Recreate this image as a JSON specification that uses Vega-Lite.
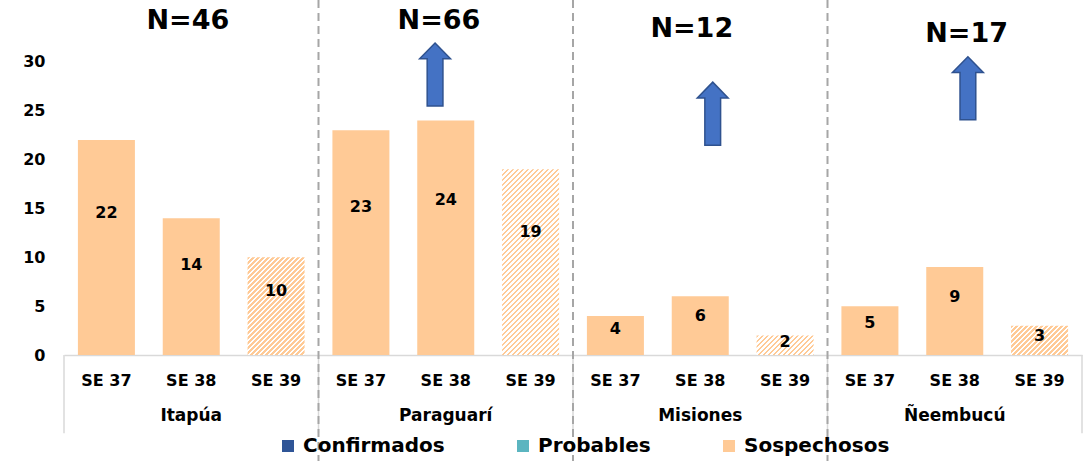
{
"$schema":"https://vega.github.io/schema/vega-lite/v6.json",
"width":1018,"height":355,
"autosize":{"type":"none"},
"padding":{"left":64,"top":0,"right":9,"bottom":106},
"config":{"view":{"stroke":null},"font":"DejaVu Sans"},
"datasets":{
"casos":[
{"dept":"Itapúa","week":"SE 37","cat":"Itapúa SE 37","tipo":"Sospechosos","value":22},
{"dept":"Itapúa","week":"SE 38","cat":"Itapúa SE 38","tipo":"Sospechosos","value":14},
{"dept":"Itapúa","week":"SE 39","cat":"Itapúa SE 39","tipo":"Sospechosos","value":10},
{"dept":"Paraguarí","week":"SE 37","cat":"Paraguarí SE 37","tipo":"Sospechosos","value":23},
{"dept":"Paraguarí","week":"SE 38","cat":"Paraguarí SE 38","tipo":"Sospechosos","value":24},
{"dept":"Paraguarí","week":"SE 39","cat":"Paraguarí SE 39","tipo":"Sospechosos","value":19},
{"dept":"Misiones","week":"SE 37","cat":"Misiones SE 37","tipo":"Sospechosos","value":4},
{"dept":"Misiones","week":"SE 38","cat":"Misiones SE 38","tipo":"Sospechosos","value":6},
{"dept":"Misiones","week":"SE 39","cat":"Misiones SE 39","tipo":"Sospechosos","value":2},
{"dept":"Ñeembucú","week":"SE 37","cat":"Ñeembucú SE 37","tipo":"Sospechosos","value":5},
{"dept":"Ñeembucú","week":"SE 38","cat":"Ñeembucú SE 38","tipo":"Sospechosos","value":9},
{"dept":"Ñeembucú","week":"SE 39","cat":"Ñeembucú SE 39","tipo":"Sospechosos","value":3}
],
"totales":[
{"dept":"Itapúa","cat":"Itapúa SE 38","label":"N=46"},
{"dept":"Paraguarí","cat":"Paraguarí SE 38","label":"N=66"},
{"dept":"Misiones","cat":"Misiones SE 38","label":"N=12"},
{"dept":"Ñeembucú","cat":"Ñeembucú SE 38","label":"N=17"}
]
},
"layer":[
{"data":{"name":"casos"},"transform":[{"filter":"datum.week !== 'SE 39'"}],
 "mark":{"type":"bar","width":{"band":0.672}},
 "encoding":{
  "x":{"field":"cat","type":"nominal","sort":null,"scale":{"domain":["Itapúa SE 37","Itapúa SE 38","Itapúa SE 39","Paraguarí SE 37","Paraguarí SE 38","Paraguarí SE 39","Misiones SE 37","Misiones SE 38","Misiones SE 39","Ñeembucú SE 37","Ñeembucú SE 38","Ñeembucú SE 39"],"paddingInner":0,"paddingOuter":0},
   "axis":{"title":null,"labelExpr":"slice(datum.value, -5)","labelAngle":0,"labelFont":"DejaVu Sans","labelFontSize":16,"labelFontWeight":"bold","labelColor":"#000000","labelPadding":17,"ticks":false,"domainColor":"#d9d9d9","domainWidth":1.5,"grid":false}},
  "y":{"field":"value","type":"quantitative","scale":{"domain":[0,36.33],"nice":false,"zero":true},
   "axis":{"title":null,"values":[0,5,10,15,20,25,30],"grid":false,"domain":false,"ticks":false,"labelPadding":19,"labelFontSize":16,"labelFontWeight":"bold","labelColor":"#000000","labelFont":"DejaVu Sans"}},
  "color":{"field":"tipo","type":"nominal","scale":{"domain":["Confirmados","Probables","Sospechosos"],"range":["#2F5597","#5BB5C0","#FFCA96"]},
   "legend":{"title":null,"orient":"none","legendX":214,"legendY":436,"direction":"horizontal","symbolType":"square","symbolSize":144,"symbolStrokeWidth":0,"labelFontSize":20,"labelFontWeight":"bold","labelFont":"DejaVu Sans","labelColor":"#000000","labelOffset":5,"columnPadding":68,"padding":0,"labelLimit":300}}
 }},
{"data":{"name":"casos"},"transform":[{"filter":"datum.cat === 'Itapúa SE 39'"}],
 "mark":{"type":"bar","width":{"band":0.672},"fill":{"gradient":"linear","x1":0,"y1":0,"x2":1.114,"y2":1.909,"stops":[
{"offset":0,"color":"#ffca96"},
{"offset":0.01,"color":"#ffca96"},{"offset":0.01,"color":"#fff"},{"offset":0.02,"color":"#fff"},{"offset":0.02,"color":"#ffca96"},{"offset":0.03,"color":"#ffca96"},{"offset":0.03,"color":"#fff"},{"offset":0.04,"color":"#fff"},{"offset":0.04,"color":"#ffca96"},{"offset":0.05,"color":"#ffca96"},{"offset":0.05,"color":"#fff"},{"offset":0.06,"color":"#fff"},{"offset":0.06,"color":"#ffca96"},{"offset":0.07,"color":"#ffca96"},{"offset":0.07,"color":"#fff"},{"offset":0.08,"color":"#fff"},{"offset":0.08,"color":"#ffca96"},{"offset":0.09,"color":"#ffca96"},{"offset":0.09,"color":"#fff"},{"offset":0.1,"color":"#fff"},{"offset":0.1,"color":"#ffca96"},
{"offset":0.11,"color":"#ffca96"},{"offset":0.11,"color":"#fff"},{"offset":0.12,"color":"#fff"},{"offset":0.12,"color":"#ffca96"},{"offset":0.13,"color":"#ffca96"},{"offset":0.13,"color":"#fff"},{"offset":0.14,"color":"#fff"},{"offset":0.14,"color":"#ffca96"},{"offset":0.15,"color":"#ffca96"},{"offset":0.15,"color":"#fff"},{"offset":0.16,"color":"#fff"},{"offset":0.16,"color":"#ffca96"},{"offset":0.17,"color":"#ffca96"},{"offset":0.17,"color":"#fff"},{"offset":0.18,"color":"#fff"},{"offset":0.18,"color":"#ffca96"},{"offset":0.19,"color":"#ffca96"},{"offset":0.19,"color":"#fff"},{"offset":0.2,"color":"#fff"},{"offset":0.2,"color":"#ffca96"},
{"offset":0.21,"color":"#ffca96"},{"offset":0.21,"color":"#fff"},{"offset":0.22,"color":"#fff"},{"offset":0.22,"color":"#ffca96"},{"offset":0.23,"color":"#ffca96"},{"offset":0.23,"color":"#fff"},{"offset":0.24,"color":"#fff"},{"offset":0.24,"color":"#ffca96"},{"offset":0.25,"color":"#ffca96"},{"offset":0.25,"color":"#fff"},{"offset":0.26,"color":"#fff"},{"offset":0.26,"color":"#ffca96"},{"offset":0.27,"color":"#ffca96"},{"offset":0.27,"color":"#fff"},{"offset":0.28,"color":"#fff"},{"offset":0.28,"color":"#ffca96"},{"offset":0.29,"color":"#ffca96"},{"offset":0.29,"color":"#fff"},{"offset":0.3,"color":"#fff"},{"offset":0.3,"color":"#ffca96"},
{"offset":0.31,"color":"#ffca96"},{"offset":0.31,"color":"#fff"},{"offset":0.32,"color":"#fff"},{"offset":0.32,"color":"#ffca96"},{"offset":0.33,"color":"#ffca96"},{"offset":0.33,"color":"#fff"},{"offset":0.34,"color":"#fff"},{"offset":0.34,"color":"#ffca96"},{"offset":0.35,"color":"#ffca96"},{"offset":0.35,"color":"#fff"},{"offset":0.36,"color":"#fff"},{"offset":0.36,"color":"#ffca96"},{"offset":0.37,"color":"#ffca96"},{"offset":0.37,"color":"#fff"},{"offset":0.38,"color":"#fff"},{"offset":0.38,"color":"#ffca96"},{"offset":0.39,"color":"#ffca96"},{"offset":0.39,"color":"#fff"},{"offset":0.4,"color":"#fff"},{"offset":0.4,"color":"#ffca96"},
{"offset":0.41,"color":"#ffca96"},{"offset":0.41,"color":"#fff"},{"offset":0.42,"color":"#fff"},{"offset":0.42,"color":"#ffca96"},{"offset":0.43,"color":"#ffca96"},{"offset":0.43,"color":"#fff"},{"offset":0.44,"color":"#fff"},{"offset":0.44,"color":"#ffca96"},{"offset":0.45,"color":"#ffca96"},{"offset":0.45,"color":"#fff"},{"offset":0.46,"color":"#fff"},{"offset":0.46,"color":"#ffca96"},{"offset":0.47,"color":"#ffca96"},{"offset":0.47,"color":"#fff"},{"offset":0.48,"color":"#fff"},{"offset":0.48,"color":"#ffca96"},{"offset":0.49,"color":"#ffca96"},{"offset":0.49,"color":"#fff"},{"offset":0.5,"color":"#fff"},{"offset":0.5,"color":"#ffca96"},
{"offset":0.51,"color":"#ffca96"},{"offset":0.51,"color":"#fff"},{"offset":0.52,"color":"#fff"},{"offset":0.52,"color":"#ffca96"},{"offset":0.53,"color":"#ffca96"},{"offset":0.53,"color":"#fff"},{"offset":0.54,"color":"#fff"},{"offset":0.54,"color":"#ffca96"},{"offset":0.55,"color":"#ffca96"},{"offset":0.55,"color":"#fff"},{"offset":0.56,"color":"#fff"},{"offset":0.56,"color":"#ffca96"},{"offset":0.57,"color":"#ffca96"},{"offset":0.57,"color":"#fff"},{"offset":0.58,"color":"#fff"},{"offset":0.58,"color":"#ffca96"},{"offset":0.59,"color":"#ffca96"},{"offset":0.59,"color":"#fff"},{"offset":0.6,"color":"#fff"},{"offset":0.6,"color":"#ffca96"},
{"offset":0.61,"color":"#ffca96"},{"offset":0.61,"color":"#fff"},{"offset":0.62,"color":"#fff"},{"offset":0.62,"color":"#ffca96"},{"offset":0.63,"color":"#ffca96"},{"offset":0.63,"color":"#fff"}
]}},
 "encoding":{"x":{"field":"cat","type":"nominal"},"y":{"field":"value","type":"quantitative"}}},
{"data":{"name":"casos"},"transform":[{"filter":"datum.cat === 'Paraguarí SE 39'"}],
 "mark":{"type":"bar","width":{"band":0.672},"fill":{"gradient":"linear","x1":0,"y1":0,"x2":0.378,"y2":1.23,"stops":[
{"offset":0,"color":"#ffca96"},
{"offset":0.01,"color":"#ffca96"},{"offset":0.01,"color":"#fff"},{"offset":0.02,"color":"#fff"},{"offset":0.02,"color":"#ffca96"},{"offset":0.03,"color":"#ffca96"},{"offset":0.03,"color":"#fff"},{"offset":0.04,"color":"#fff"},{"offset":0.04,"color":"#ffca96"},{"offset":0.05,"color":"#ffca96"},{"offset":0.05,"color":"#fff"},{"offset":0.06,"color":"#fff"},{"offset":0.06,"color":"#ffca96"},{"offset":0.07,"color":"#ffca96"},{"offset":0.07,"color":"#fff"},{"offset":0.08,"color":"#fff"},{"offset":0.08,"color":"#ffca96"},{"offset":0.09,"color":"#ffca96"},{"offset":0.09,"color":"#fff"},{"offset":0.1,"color":"#fff"},{"offset":0.1,"color":"#ffca96"},
{"offset":0.11,"color":"#ffca96"},{"offset":0.11,"color":"#fff"},{"offset":0.12,"color":"#fff"},{"offset":0.12,"color":"#ffca96"},{"offset":0.13,"color":"#ffca96"},{"offset":0.13,"color":"#fff"},{"offset":0.14,"color":"#fff"},{"offset":0.14,"color":"#ffca96"},{"offset":0.15,"color":"#ffca96"},{"offset":0.15,"color":"#fff"},{"offset":0.16,"color":"#fff"},{"offset":0.16,"color":"#ffca96"},{"offset":0.17,"color":"#ffca96"},{"offset":0.17,"color":"#fff"},{"offset":0.18,"color":"#fff"},{"offset":0.18,"color":"#ffca96"},{"offset":0.19,"color":"#ffca96"},{"offset":0.19,"color":"#fff"},{"offset":0.2,"color":"#fff"},{"offset":0.2,"color":"#ffca96"},
{"offset":0.21,"color":"#ffca96"},{"offset":0.21,"color":"#fff"},{"offset":0.22,"color":"#fff"},{"offset":0.22,"color":"#ffca96"},{"offset":0.23,"color":"#ffca96"},{"offset":0.23,"color":"#fff"},{"offset":0.24,"color":"#fff"},{"offset":0.24,"color":"#ffca96"},{"offset":0.25,"color":"#ffca96"},{"offset":0.25,"color":"#fff"},{"offset":0.26,"color":"#fff"},{"offset":0.26,"color":"#ffca96"},{"offset":0.27,"color":"#ffca96"},{"offset":0.27,"color":"#fff"},{"offset":0.28,"color":"#fff"},{"offset":0.28,"color":"#ffca96"},{"offset":0.29,"color":"#ffca96"},{"offset":0.29,"color":"#fff"},{"offset":0.3,"color":"#fff"},{"offset":0.3,"color":"#ffca96"},
{"offset":0.31,"color":"#ffca96"},{"offset":0.31,"color":"#fff"},{"offset":0.32,"color":"#fff"},{"offset":0.32,"color":"#ffca96"},{"offset":0.33,"color":"#ffca96"},{"offset":0.33,"color":"#fff"},{"offset":0.34,"color":"#fff"},{"offset":0.34,"color":"#ffca96"},{"offset":0.35,"color":"#ffca96"},{"offset":0.35,"color":"#fff"},{"offset":0.36,"color":"#fff"},{"offset":0.36,"color":"#ffca96"},{"offset":0.37,"color":"#ffca96"},{"offset":0.37,"color":"#fff"},{"offset":0.38,"color":"#fff"},{"offset":0.38,"color":"#ffca96"},{"offset":0.39,"color":"#ffca96"},{"offset":0.39,"color":"#fff"},{"offset":0.4,"color":"#fff"},{"offset":0.4,"color":"#ffca96"},
{"offset":0.41,"color":"#ffca96"},{"offset":0.41,"color":"#fff"},{"offset":0.42,"color":"#fff"},{"offset":0.42,"color":"#ffca96"},{"offset":0.43,"color":"#ffca96"},{"offset":0.43,"color":"#fff"},{"offset":0.44,"color":"#fff"},{"offset":0.44,"color":"#ffca96"},{"offset":0.45,"color":"#ffca96"},{"offset":0.45,"color":"#fff"},{"offset":0.46,"color":"#fff"},{"offset":0.46,"color":"#ffca96"},{"offset":0.47,"color":"#ffca96"},{"offset":0.47,"color":"#fff"},{"offset":0.48,"color":"#fff"},{"offset":0.48,"color":"#ffca96"},{"offset":0.49,"color":"#ffca96"},{"offset":0.49,"color":"#fff"},{"offset":0.5,"color":"#fff"},{"offset":0.5,"color":"#ffca96"},
{"offset":0.51,"color":"#ffca96"},{"offset":0.51,"color":"#fff"},{"offset":0.52,"color":"#fff"},{"offset":0.52,"color":"#ffca96"},{"offset":0.53,"color":"#ffca96"},{"offset":0.53,"color":"#fff"},{"offset":0.54,"color":"#fff"},{"offset":0.54,"color":"#ffca96"},{"offset":0.55,"color":"#ffca96"},{"offset":0.55,"color":"#fff"},{"offset":0.56,"color":"#fff"},{"offset":0.56,"color":"#ffca96"},{"offset":0.57,"color":"#ffca96"},{"offset":0.57,"color":"#fff"},{"offset":0.58,"color":"#fff"},{"offset":0.58,"color":"#ffca96"},{"offset":0.59,"color":"#ffca96"},{"offset":0.59,"color":"#fff"},{"offset":0.6,"color":"#fff"},{"offset":0.6,"color":"#ffca96"},
{"offset":0.61,"color":"#ffca96"},{"offset":0.61,"color":"#fff"},{"offset":0.62,"color":"#fff"},{"offset":0.62,"color":"#ffca96"},{"offset":0.63,"color":"#ffca96"},{"offset":0.63,"color":"#fff"},{"offset":0.64,"color":"#fff"},{"offset":0.64,"color":"#ffca96"},{"offset":0.65,"color":"#ffca96"},{"offset":0.65,"color":"#fff"},{"offset":0.66,"color":"#fff"},{"offset":0.66,"color":"#ffca96"},{"offset":0.67,"color":"#ffca96"},{"offset":0.67,"color":"#fff"},{"offset":0.68,"color":"#fff"},{"offset":0.68,"color":"#ffca96"},{"offset":0.69,"color":"#ffca96"},{"offset":0.69,"color":"#fff"},{"offset":0.7,"color":"#fff"},{"offset":0.7,"color":"#ffca96"},
{"offset":0.71,"color":"#ffca96"},{"offset":0.71,"color":"#fff"},{"offset":0.72,"color":"#fff"},{"offset":0.72,"color":"#ffca96"},{"offset":0.73,"color":"#ffca96"},{"offset":0.73,"color":"#fff"},{"offset":0.74,"color":"#fff"},{"offset":0.74,"color":"#ffca96"},{"offset":0.75,"color":"#ffca96"},{"offset":0.75,"color":"#fff"},{"offset":0.76,"color":"#fff"},{"offset":0.76,"color":"#ffca96"},{"offset":0.77,"color":"#ffca96"},{"offset":0.77,"color":"#fff"},{"offset":0.78,"color":"#fff"},{"offset":0.78,"color":"#ffca96"},{"offset":0.79,"color":"#ffca96"},{"offset":0.79,"color":"#fff"},{"offset":0.8,"color":"#fff"},{"offset":0.8,"color":"#ffca96"},
{"offset":0.81,"color":"#ffca96"},{"offset":0.81,"color":"#fff"},{"offset":0.82,"color":"#fff"},{"offset":0.82,"color":"#ffca96"},{"offset":0.83,"color":"#ffca96"},{"offset":0.83,"color":"#fff"},{"offset":0.84,"color":"#fff"},{"offset":0.84,"color":"#ffca96"},{"offset":0.85,"color":"#ffca96"},{"offset":0.85,"color":"#fff"},{"offset":0.86,"color":"#fff"},{"offset":0.86,"color":"#ffca96"},{"offset":0.87,"color":"#ffca96"},{"offset":0.87,"color":"#fff"},{"offset":0.88,"color":"#fff"},{"offset":0.88,"color":"#ffca96"},{"offset":0.89,"color":"#ffca96"},{"offset":0.89,"color":"#fff"},{"offset":0.9,"color":"#fff"},{"offset":0.9,"color":"#ffca96"},
{"offset":0.91,"color":"#ffca96"},{"offset":0.91,"color":"#fff"},{"offset":0.92,"color":"#fff"},{"offset":0.92,"color":"#ffca96"},{"offset":0.93,"color":"#ffca96"},{"offset":0.93,"color":"#fff"},{"offset":0.94,"color":"#fff"},{"offset":0.94,"color":"#ffca96"},{"offset":0.95,"color":"#ffca96"},{"offset":0.95,"color":"#fff"},{"offset":0.96,"color":"#fff"},{"offset":0.96,"color":"#ffca96"},{"offset":0.97,"color":"#ffca96"},{"offset":0.97,"color":"#fff"},{"offset":0.98,"color":"#fff"},{"offset":0.98,"color":"#ffca96"},{"offset":0.99,"color":"#ffca96"},{"offset":0.99,"color":"#fff"},{"offset":1,"color":"#fff"}
]}},
 "encoding":{"x":{"field":"cat","type":"nominal"},"y":{"field":"value","type":"quantitative"}}},
{"data":{"name":"casos"},"transform":[{"filter":"datum.cat === 'Misiones SE 39'"}],
 "mark":{"type":"bar","width":{"band":0.672},"fill":{"gradient":"linear","x1":0,"y1":0,"x2":3.927,"y2":1.343,"stops":[
{"offset":0,"color":"#ffca96"},
{"offset":0.01,"color":"#ffca96"},{"offset":0.01,"color":"#fff"},{"offset":0.02,"color":"#fff"},{"offset":0.02,"color":"#ffca96"},{"offset":0.03,"color":"#ffca96"},{"offset":0.03,"color":"#fff"},{"offset":0.04,"color":"#fff"},{"offset":0.04,"color":"#ffca96"},{"offset":0.05,"color":"#ffca96"},{"offset":0.05,"color":"#fff"},{"offset":0.06,"color":"#fff"},{"offset":0.06,"color":"#ffca96"},{"offset":0.07,"color":"#ffca96"},{"offset":0.07,"color":"#fff"},{"offset":0.08,"color":"#fff"},{"offset":0.08,"color":"#ffca96"},{"offset":0.09,"color":"#ffca96"},{"offset":0.09,"color":"#fff"},{"offset":0.1,"color":"#fff"},{"offset":0.1,"color":"#ffca96"},
{"offset":0.11,"color":"#ffca96"},{"offset":0.11,"color":"#fff"},{"offset":0.12,"color":"#fff"},{"offset":0.12,"color":"#ffca96"},{"offset":0.13,"color":"#ffca96"},{"offset":0.13,"color":"#fff"},{"offset":0.14,"color":"#fff"},{"offset":0.14,"color":"#ffca96"},{"offset":0.15,"color":"#ffca96"},{"offset":0.15,"color":"#fff"},{"offset":0.16,"color":"#fff"},{"offset":0.16,"color":"#ffca96"},{"offset":0.17,"color":"#ffca96"},{"offset":0.17,"color":"#fff"},{"offset":0.18,"color":"#fff"},{"offset":0.18,"color":"#ffca96"},{"offset":0.19,"color":"#ffca96"},{"offset":0.19,"color":"#fff"},{"offset":0.2,"color":"#fff"},{"offset":0.2,"color":"#ffca96"},
{"offset":0.21,"color":"#ffca96"},{"offset":0.21,"color":"#fff"},{"offset":0.22,"color":"#fff"},{"offset":0.22,"color":"#ffca96"},{"offset":0.23,"color":"#ffca96"},{"offset":0.23,"color":"#fff"},{"offset":0.24,"color":"#fff"},{"offset":0.24,"color":"#ffca96"},{"offset":0.25,"color":"#ffca96"},{"offset":0.25,"color":"#fff"},{"offset":0.26,"color":"#fff"},{"offset":0.26,"color":"#ffca96"},{"offset":0.27,"color":"#ffca96"},{"offset":0.27,"color":"#fff"},{"offset":0.28,"color":"#fff"},{"offset":0.28,"color":"#ffca96"},{"offset":0.29,"color":"#ffca96"},{"offset":0.29,"color":"#fff"},{"offset":0.3,"color":"#fff"},{"offset":0.3,"color":"#ffca96"},
{"offset":0.31,"color":"#ffca96"},{"offset":0.31,"color":"#fff"},{"offset":0.32,"color":"#fff"},{"offset":0.32,"color":"#ffca96"}
]}},
 "encoding":{"x":{"field":"cat","type":"nominal"},"y":{"field":"value","type":"quantitative"}}},
{"data":{"name":"casos"},"transform":[{"filter":"datum.cat === 'Ñeembucú SE 39'"}],
 "mark":{"type":"bar","width":{"band":0.672},"fill":{"gradient":"linear","x1":0,"y1":0,"x2":3.47,"y2":1.784,"stops":[
{"offset":0,"color":"#ffca96"},
{"offset":0.01,"color":"#ffca96"},{"offset":0.01,"color":"#fff"},{"offset":0.02,"color":"#fff"},{"offset":0.02,"color":"#ffca96"},{"offset":0.03,"color":"#ffca96"},{"offset":0.03,"color":"#fff"},{"offset":0.04,"color":"#fff"},{"offset":0.04,"color":"#ffca96"},{"offset":0.05,"color":"#ffca96"},{"offset":0.05,"color":"#fff"},{"offset":0.06,"color":"#fff"},{"offset":0.06,"color":"#ffca96"},{"offset":0.07,"color":"#ffca96"},{"offset":0.07,"color":"#fff"},{"offset":0.08,"color":"#fff"},{"offset":0.08,"color":"#ffca96"},{"offset":0.09,"color":"#ffca96"},{"offset":0.09,"color":"#fff"},{"offset":0.1,"color":"#fff"},{"offset":0.1,"color":"#ffca96"},
{"offset":0.11,"color":"#ffca96"},{"offset":0.11,"color":"#fff"},{"offset":0.12,"color":"#fff"},{"offset":0.12,"color":"#ffca96"},{"offset":0.13,"color":"#ffca96"},{"offset":0.13,"color":"#fff"},{"offset":0.14,"color":"#fff"},{"offset":0.14,"color":"#ffca96"},{"offset":0.15,"color":"#ffca96"},{"offset":0.15,"color":"#fff"},{"offset":0.16,"color":"#fff"},{"offset":0.16,"color":"#ffca96"},{"offset":0.17,"color":"#ffca96"},{"offset":0.17,"color":"#fff"},{"offset":0.18,"color":"#fff"},{"offset":0.18,"color":"#ffca96"},{"offset":0.19,"color":"#ffca96"},{"offset":0.19,"color":"#fff"},{"offset":0.2,"color":"#fff"},{"offset":0.2,"color":"#ffca96"},
{"offset":0.21,"color":"#ffca96"},{"offset":0.21,"color":"#fff"},{"offset":0.22,"color":"#fff"},{"offset":0.22,"color":"#ffca96"},{"offset":0.23,"color":"#ffca96"},{"offset":0.23,"color":"#fff"},{"offset":0.24,"color":"#fff"},{"offset":0.24,"color":"#ffca96"},{"offset":0.25,"color":"#ffca96"},{"offset":0.25,"color":"#fff"},{"offset":0.26,"color":"#fff"},{"offset":0.26,"color":"#ffca96"},{"offset":0.27,"color":"#ffca96"},{"offset":0.27,"color":"#fff"},{"offset":0.28,"color":"#fff"},{"offset":0.28,"color":"#ffca96"},{"offset":0.29,"color":"#ffca96"},{"offset":0.29,"color":"#fff"},{"offset":0.3,"color":"#fff"},{"offset":0.3,"color":"#ffca96"},
{"offset":0.31,"color":"#ffca96"},{"offset":0.31,"color":"#fff"},{"offset":0.32,"color":"#fff"},{"offset":0.32,"color":"#ffca96"},{"offset":0.33,"color":"#ffca96"},{"offset":0.33,"color":"#fff"},{"offset":0.34,"color":"#fff"},{"offset":0.34,"color":"#ffca96"},{"offset":0.35,"color":"#ffca96"},{"offset":0.35,"color":"#fff"},{"offset":0.36,"color":"#fff"},{"offset":0.36,"color":"#ffca96"}
]}},
 "encoding":{"x":{"field":"cat","type":"nominal"},"y":{"field":"value","type":"quantitative"}}},
{"data":{"name":"casos"},"transform":[{"filter":"datum.week === 'SE 37'"}],
 "mark":{"type":"rule","color":"#d9d9d9","strokeWidth":1.5},
 "encoding":{"x":{"field":"cat","type":"nominal","bandPosition":0},"y":{"datum":0,"type":"quantitative"},"y2":{"datum":-8}}},
{"data":{"name":"casos"},"transform":[{"filter":"datum.cat === 'Ñeembucú SE 39'"}],
 "mark":{"type":"rule","color":"#d9d9d9","strokeWidth":1.5},
 "encoding":{"x":{"field":"cat","type":"nominal","bandPosition":1},"y":{"datum":0,"type":"quantitative"},"y2":{"datum":-8}}},
{"data":{"name":"casos"},"transform":[{"filter":"datum.week === 'SE 37' && datum.dept !== 'Itapúa'"}],
 "mark":{"type":"rule","color":"#a6a6a6","strokeWidth":2,"strokeDash":[8,5]},
 "encoding":{"x":{"field":"cat","type":"nominal","bandPosition":0},"y":{"datum":36.33,"type":"quantitative"},"y2":{"datum":-10.9}}},
{"data":{"name":"casos"},"transform":[{"calculate":"datum.value*0.66","as":"ly"}],
 "mark":{"type":"text","font":"DejaVu Sans","fontSize":16,"fontWeight":"bold","color":"#000000","baseline":"middle"},
 "encoding":{"x":{"field":"cat","type":"nominal"},"y":{"field":"ly","type":"quantitative","title":null},"text":{"field":"value","type":"quantitative"}}},
{"data":{"name":"casos"},"transform":[{"filter":"datum.week === 'SE 38'"}],
 "mark":{"type":"text","font":"DejaVu Sans","fontSize":17,"fontWeight":"bold","color":"#000000","baseline":"middle"},
 "encoding":{"x":{"field":"cat","type":"nominal"},"y":{"datum":-6.2,"type":"quantitative"},"text":{"field":"dept","type":"nominal"}}},
{"data":{"name":"totales"},"transform":[{"filter":"datum.dept === 'Itapúa'"}],
 "mark":{"type":"text","font":"DejaVu Sans","fontSize":27,"fontWeight":"bold","color":"#000000","baseline":"middle"},
 "encoding":{"x":{"field":"cat","type":"nominal","bandPosition":0.46},"y":{"datum":34.2,"type":"quantitative"},"text":{"field":"label","type":"nominal"}}},
{"data":{"name":"totales"},"transform":[{"filter":"datum.dept === 'Paraguarí'"}],
 "mark":{"type":"text","font":"DejaVu Sans","fontSize":27,"fontWeight":"bold","color":"#000000","baseline":"middle"},
 "encoding":{"x":{"field":"cat","type":"nominal","bandPosition":0.42},"y":{"datum":34.2,"type":"quantitative"},"text":{"field":"label","type":"nominal"}}},
{"data":{"name":"totales"},"transform":[{"filter":"datum.dept === 'Misiones'"}],
 "mark":{"type":"text","font":"DejaVu Sans","fontSize":27,"fontWeight":"bold","color":"#000000","baseline":"middle"},
 "encoding":{"x":{"field":"cat","type":"nominal","bandPosition":0.4},"y":{"datum":33.4,"type":"quantitative"},"text":{"field":"label","type":"nominal"}}},
{"data":{"name":"totales"},"transform":[{"filter":"datum.dept === 'Ñeembucú'"}],
 "mark":{"type":"text","font":"DejaVu Sans","fontSize":27,"fontWeight":"bold","color":"#000000","baseline":"middle"},
 "encoding":{"x":{"field":"cat","type":"nominal","bandPosition":0.64},"y":{"datum":32.9,"type":"quantitative"},"text":{"field":"label","type":"nominal"}}},
{"data":{"name":"totales"},"transform":[{"filter":"datum.dept === 'Paraguarí'"}],
 "mark":{"type":"point","shape":"M0,-1L0.49,-0.5L0.25,-0.5L0.25,1L-0.25,1L-0.25,-0.5L-0.49,-0.5Z","size":3969,"filled":true,"fill":"#4472C4","stroke":"#2F528F","strokeWidth":1.5,"opacity":1},
 "encoding":{"x":{"field":"cat","type":"nominal","bandPosition":0.374},"y":{"datum":28.7,"type":"quantitative"}}},
{"data":{"name":"totales"},"transform":[{"filter":"datum.dept === 'Misiones'"}],
 "mark":{"type":"point","shape":"M0,-1L0.49,-0.5L0.25,-0.5L0.25,1L-0.25,1L-0.25,-0.5L-0.49,-0.5Z","size":3969,"filled":true,"fill":"#4472C4","stroke":"#2F528F","strokeWidth":1.5,"opacity":1},
 "encoding":{"x":{"field":"cat","type":"nominal","bandPosition":0.647},"y":{"datum":24.7,"type":"quantitative"}}},
{"data":{"name":"totales"},"transform":[{"filter":"datum.dept === 'Ñeembucú'"}],
 "mark":{"type":"point","shape":"M0,-1L0.49,-0.5L0.25,-0.5L0.25,1L-0.25,1L-0.25,-0.5L-0.49,-0.5Z","size":3969,"filled":true,"fill":"#4472C4","stroke":"#2F528F","strokeWidth":1.5,"opacity":1},
 "encoding":{"x":{"field":"cat","type":"nominal","bandPosition":0.655},"y":{"datum":27.3,"type":"quantitative"}}}
]
}
